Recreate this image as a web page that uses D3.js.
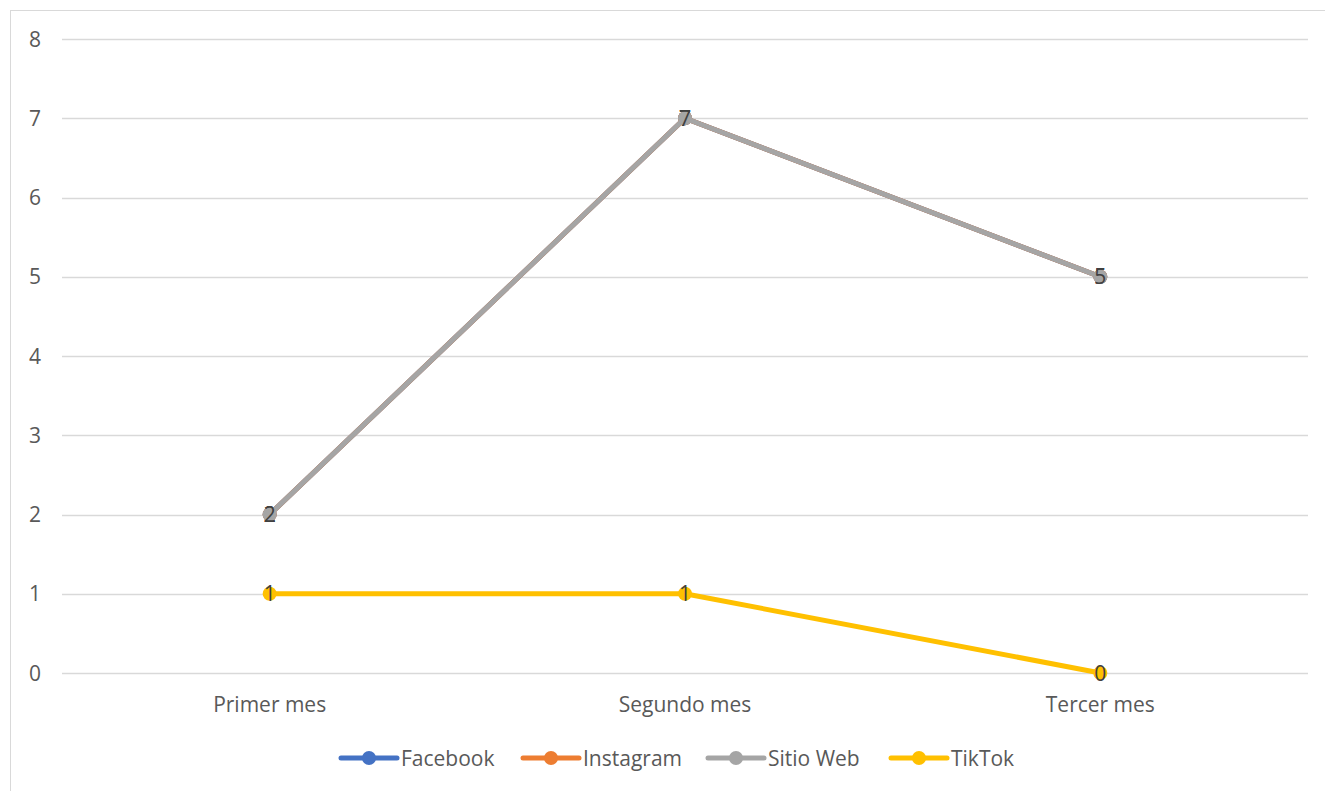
<!DOCTYPE html>
<html>
<head>
  <meta charset="utf-8">
  <title>Visitas por canal</title>
  <script src="https://cdn.jsdelivr.net/npm/d3@7/dist/d3.min.js"></script>
  <style>
    body { margin: 0; background: #fff; }
    text { font-family: "Open Sans", "Liberation Sans", sans-serif; }
  </style>
</head>
<body>
  <svg id="chart" width="1325" height="791"></svg>
  <script>
    // datos
    const meses = ['Primer mes', 'Segundo mes', 'Tercer mes'];
    const series = ['Facebook', 'Instagram', 'Sitio Web', 'TikTok'];
    const facebook = [2, 7, 5];
    const instagram = [2, 7, 5];
    const sitioWeb = [2, 7, 5];
    const tiktok = [1, 1, 0];
    const yTicks = [0, 1, 2, 3, 4, 5, 6, 7, 8];

    const valores = [facebook, instagram, sitioWeb, tiktok];
    const colores = ['#4472C4', '#ED7D31', '#A5A5A5', '#FFC000'];

    const svg = d3.select('#chart');

    // borde del area del grafico
    svg.append('rect')
      .attr('x', 10.5).attr('y', 10.5)
      .attr('width', 1330).attr('height', 800)
      .attr('fill', 'none').attr('stroke', '#d9d9d9').attr('stroke-width', 1);

    const x = d3.scaleBand().domain(meses).range([62, 1308]);
    const y = d3.scaleLinear().domain([0, 8]).range([673, 39]);

    // lineas de cuadricula
    svg.append('g').selectAll('line')
      .data(yTicks)
      .join('line')
      .attr('x1', 62).attr('x2', 1308)
      .attr('y1', d => Math.round(y(d)) + 0.5)
      .attr('y2', d => Math.round(y(d)) + 0.5)
      .attr('stroke', '#d9d9d9').attr('stroke-width', 1.3);

    // eje Y
    svg.append('g').selectAll('text')
      .data(yTicks)
      .join('text')
      .attr('x', 41)
      .attr('y', d => y(d))
      .attr('dy', '0.36em')
      .attr('text-anchor', 'end')
      .attr('font-size', 21)
      .attr('fill', '#595959')
      .text(d => d);

    // eje X
    svg.append('g').selectAll('text')
      .data(meses)
      .join('text')
      .attr('x', d => x(d) + x.bandwidth() / 2)
      .attr('y', 712)
      .attr('text-anchor', 'middle')
      .attr('font-size', 21)
      .attr('fill', '#595959')
      .text(d => d);

    const linea = d3.line()
      .x((d, i) => x(meses[i]) + x.bandwidth() / 2)
      .y(d => y(d));

    series.forEach(function (nombre, s) {
      const g = svg.append('g');
      g.append('path')
        .datum(valores[s])
        .attr('d', linea)
        .attr('fill', 'none')
        .attr('stroke', colores[s])
        .attr('stroke-width', 5)
        .attr('stroke-linejoin', 'round')
        .attr('stroke-linecap', 'round');

      g.selectAll('circle')
        .data(valores[s])
        .join('circle')
        .attr('cx', (d, i) => x(meses[i]) + x.bandwidth() / 2)
        .attr('cy', d => y(d))
        .attr('r', 7)
        .attr('fill', colores[s]);

      g.selectAll('text')
        .data(valores[s])
        .join('text')
        .attr('x', (d, i) => x(meses[i]) + x.bandwidth() / 2)
        .attr('y', d => y(d))
        .attr('dy', '0.36em')
        .attr('text-anchor', 'middle')
        .attr('font-size', 21)
        .attr('fill', '#404040')
        .text(d => d);
    });

    // leyenda
    const leyendaX = [341, 523, 708, 891];
    const ley = svg.append('g');
    series.forEach(function (nombre, s) {
      const lx = leyendaX[s];
      ley.append('line')
        .attr('x1', lx).attr('x2', lx + 56)
        .attr('y1', 758).attr('y2', 758)
        .attr('stroke', colores[s]).attr('stroke-width', 5)
        .attr('stroke-linecap', 'round');
      ley.append('circle')
        .attr('cx', lx + 28).attr('cy', 758).attr('r', 7)
        .attr('fill', colores[s]);
      ley.append('text')
        .attr('x', lx + 60).attr('y', 758)
        .attr('dy', '0.36em')
        .attr('font-size', 21)
        .attr('fill', '#595959')
        .text(nombre);
    });
  </script>
</body>
</html>
